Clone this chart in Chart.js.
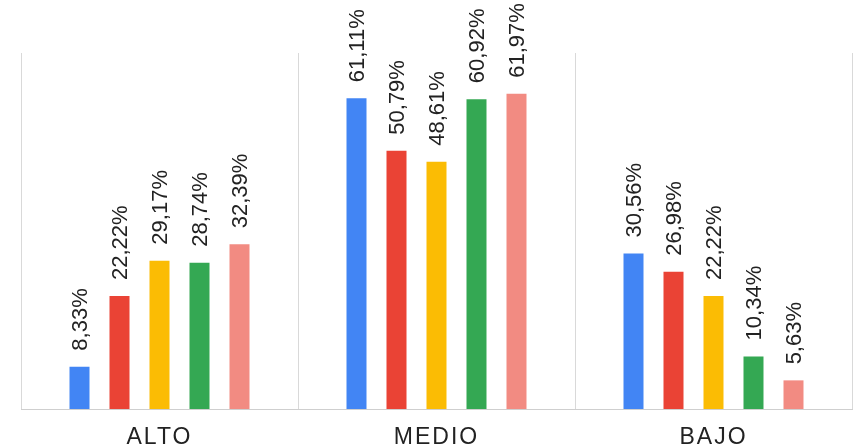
<!DOCTYPE html>
<html>
<head>
<meta charset="utf-8">
<script src="https://cdn.jsdelivr.net/npm/chart.js@4.4.1/dist/chart.umd.min.js"></script>
<style>
  html, body { margin: 0; padding: 0; background: #ffffff; }
  #wrap { width: 857px; height: 448px; position: relative; }
</style>
</head>
<body>
<div id="wrap"><canvas id="chart"></canvas></div>
<script>
// Niveles y porcentajes por grupo
const categories = ['ALTO', 'MEDIO', 'BAJO'];
const seriesNames = ['Grupo 1', 'Grupo 2', 'Grupo 3', 'Grupo 4', 'Grupo 5'];
const grupo1 = [8.33, 61.11, 30.56];
const grupo2 = [22.22, 50.79, 26.98];
const grupo3 = [29.17, 48.61, 22.22];
const grupo4 = [28.74, 60.92, 10.34];
const grupo5 = [32.39, 61.97, 5.63];
const seriesValues = [grupo1, grupo2, grupo3, grupo4, grupo5];
const seriesColors = ['#4285F4', '#EA4335', '#FBBC04', '#34A853', '#F28B82'];

const FONT = "'Liberation Sans', Arial, sans-serif";

function formatPct(v) {
  return v.toFixed(2).replace('.', ',') + '%';
}

// Etiquetas verticales encima de cada barra
const verticalLabels = {
  id: 'verticalLabels',
  afterDatasetsDraw(chart) {
    const ctx = chart.ctx;
    ctx.save();
    ctx.letterSpacing = '0px';
    ctx.font = '22px ' + FONT;
    ctx.fillStyle = '#222222';
    ctx.textAlign = 'left';
    ctx.textBaseline = 'middle';
    chart.data.datasets.forEach((ds, di) => {
      const meta = chart.getDatasetMeta(di);
      meta.data.forEach((bar, i) => {
        ctx.save();
        ctx.translate(bar.x + 1, bar.y - 16);
        ctx.rotate(-Math.PI / 2);
        ctx.fillText(formatPct(ds.data[i]), 0, 0);
        ctx.restore();
      });
    });
    ctx.restore();
  }
};

// Espaciado de letras para las etiquetas de categoría
const spacedTicks = {
  id: 'spacedTicks',
  beforeDraw(chart) {
    chart.ctx.letterSpacing = '2px';
  }
};

new Chart(document.getElementById('chart'), {
  type: 'bar',
  data: {
    labels: categories,
    datasets: seriesValues.map((vals, k) => ({
      label: seriesNames[k],
      data: vals,
      backgroundColor: seriesColors[k],
      borderWidth: 0,
      barPercentage: 0.5,
      categoryPercentage: 0.722
    }))
  },
  options: {
    responsive: true,
    maintainAspectRatio: false,
    animation: false,
    layout: { padding: { left: 21, right: 5, top: 53, bottom: 0 } },
    plugins: {
      legend: { display: false },
      tooltip: { enabled: false }
    },
    scales: {
      x: {
        afterFit(scale) { scale.height = 39; },
        grid: {
          display: true,
          offset: true,
          color: '#d9d9d9',
          lineWidth: 1,
          drawTicks: false
        },
        border: { display: true, color: '#cfcfcf', width: 1 },
        ticks: {
          color: '#222222',
          padding: 17,
          font: { family: FONT, size: 23, lineHeight: 1 }
        }
      },
      y: {
        display: false,
        min: 0,
        max: 70
      }
    }
  },
  plugins: [spacedTicks, verticalLabels]
});
</script>
</body>
</html>
